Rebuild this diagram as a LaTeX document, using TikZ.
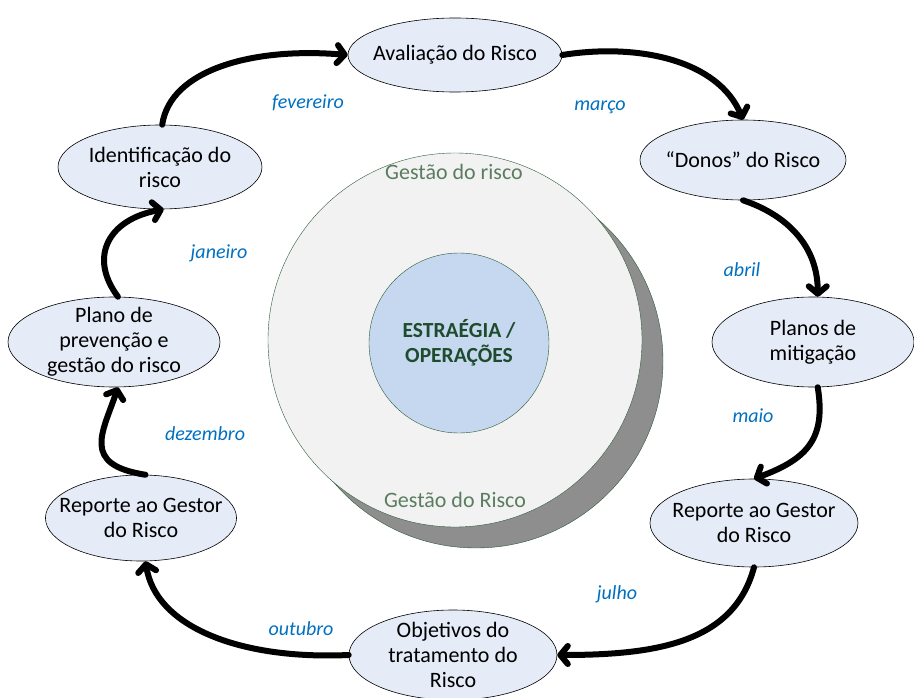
\documentclass[tikz,border=0pt]{standalone}
\usepackage{fontspec}
\setmainfont{Carlito}
\usepackage{tikz}
\usetikzlibrary{arrows.meta,shapes.geometric}
\usepackage{xcolor}
\definecolor{stagefill}{RGB}{229, 236, 247}
\definecolor{corefill}{RGB}{197, 216, 239}
\definecolor{ringfill}{RGB}{242, 242, 242}
\definecolor{shadowgray}{RGB}{142, 142, 142}
\definecolor{ringline}{RGB}{45, 90, 55}
\definecolor{ringtext}{RGB}{90, 125, 95}
\definecolor{coretext}{RGB}{30, 75, 45}
\definecolor{monthblue}{RGB}{0, 112, 192}

\tikzset{
  stage/.style={ellipse, draw=black, line width=0.6pt, fill=stagefill,
    inner sep=-14pt, align=center},
  cycle/.style={line width=6pt, line cap=round,
    -{Straight Barb[round,length=7.5pt,width=18pt]}},
  month/.style={font=\fontsize{20}{24}\selectfont\itshape, text=monthblue},
}

\begin{document}
\begin{tikzpicture}[x=1pt,y=-1pt,font=\fontsize{22}{25}\selectfont]
    \useasboundingbox (0,0) rectangle (914,698);

    % Central circles
    \node[circle, draw=ringline, fill=shadowgray, minimum size=374pt] (shadow) at (476,361) {};
    \node[circle, draw=ringline, fill=ringfill, minimum size=374pt] (ring) at (455,340) {};
    \node[circle, draw=ringline, fill=corefill, minimum size=180pt, align=center,
      text=coretext, font=\fontsize{21.5}{25}\selectfont\bfseries] (core) at (459,343) {ESTRAÉGIA /\\OPERAÇÕES};
    \node[text=ringtext] (ringtop) at (454,172) {Gestão do risco};
    \node[text=ringtext] (ringbot) at (455,500) {Gestão do Risco};

    % Stages of the cycle
    \node[stage, minimum width=214pt, minimum height=74pt] (aval) at (455,55) {Avaliação do Risco};
    \node[stage, minimum width=206pt, minimum height=80pt] (donos) at (743,160) {``Donos'' do Risco};
    \node[stage, minimum width=202pt, minimum height=90pt] (planos) at (813,342) {Planos de\\mitigação};
    \node[stage, minimum width=208pt, minimum height=88pt] (repR) at (754,523) {Reporte ao Gestor\\do Risco};
    \node[stage, minimum width=208pt, minimum height=90pt] (obj) at (453,655) {Objetivos do\\tratamento do\\Risco};
    \node[stage, minimum width=188pt, minimum height=86pt] (repL) at (141,518) {Reporte ao Gestor\\do Risco};
    \node[stage, minimum width=212pt, minimum height=90pt] (plano) at (114,342) {Plano de\\prevenção e\\gestão do risco};
    \node[stage, minimum width=204pt, minimum height=84pt] (ident) at (160,167) {Identificação do\\risco};

    % Arrows
    \draw[cycle] (ident.87) .. controls +(8,-55) and +(-95,-8) .. (aval.west);
    \draw[cycle] (aval.east) .. controls +(75,-12) and +(-25,-60) .. (donos.north);
    \draw[cycle] (donos.south) .. controls +(45,15) and +(0,-50) .. (planos.84);
    \draw[cycle] (planos.-84) .. controls +(8,50) and +(55,-20) .. (repR.north);
    \draw[cycle] (repR.south) .. controls +(-20,75) and +(100,0) .. (obj.east);
    \draw[cycle] (obj.west) .. controls +(-110,5) and +(10,65) .. (repL.-84);
    \draw[cycle] (repL.84) .. controls +(-65,-10) and +(-15,45) .. (plano.-85);
    \draw[cycle] (plano.85) .. controls +(-30,-40) and +(-55,10) .. (ident.-85);

    % Months
    \node[month] (fev) at (308,103) {fevereiro};
    \node[month] (mar) at (600,107) {março};
    \node[month] (abr) at (742,270) {abril};
    \node[month] (mai) at (753,416) {maio};
    \node[month] (jul) at (617,594) {julho};
    \node[month] (out) at (301,629) {outubro};
    \node[month] (dez) at (205,434) {dezembro};
    \node[month] (jan) at (219,253) {janeiro};
\end{tikzpicture}
\end{document}
